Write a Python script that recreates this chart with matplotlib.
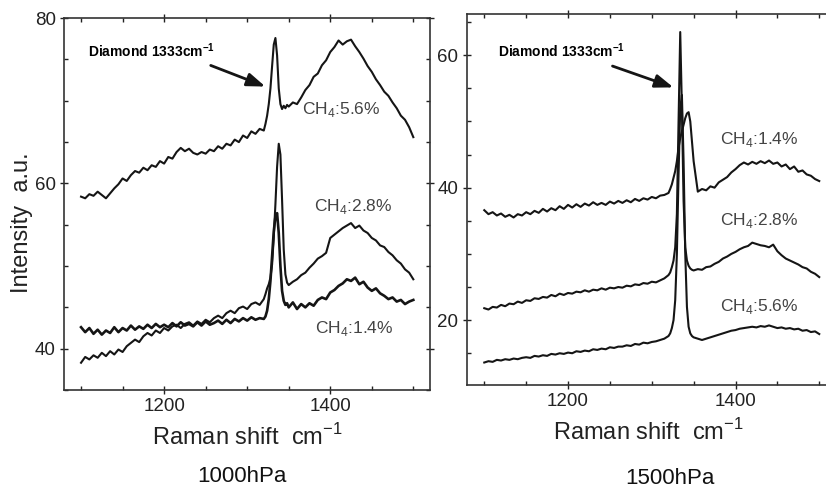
import matplotlib
matplotlib.use("Agg")
import matplotlib.pyplot as plt
from matplotlib.ticker import FixedLocator, MultipleLocator

plt.rcParams['font.family'] = ['Liberation Sans', 'DejaVu Sans']
plt.rcParams['mathtext.fontset'] = 'custom'
plt.rcParams['mathtext.rm'] = 'Liberation Sans'
plt.rcParams['mathtext.bf'] = 'Liberation Sans:bold'

# Raman shift (cm-1), finer steps around the diamond line
shift = [1100, 1105, 1110, 1115, 1120, 1125, 1130, 1135, 1140,
         1145, 1150, 1155, 1160, 1165, 1170, 1175, 1180, 1185,
         1190, 1195, 1200, 1205, 1210, 1215, 1220, 1225, 1230,
         1235, 1240, 1245, 1250, 1255, 1260, 1265, 1270, 1275,
         1280, 1285, 1290, 1295, 1300, 1305, 1310, 1315, 1320,
         1322, 1324, 1326, 1328, 1330, 1332, 1334, 1336, 1338, 1340, 1342, 1344, 1346, 1348,
         1350, 1355, 1360, 1365, 1370, 1375, 1380, 1385, 1390, 1395, 1400,
         1405, 1410, 1415, 1420, 1425, 1430, 1435, 1440, 1445, 1450,
         1455, 1460, 1465, 1470, 1475, 1480, 1485, 1490, 1495, 1500]

# 1000 hPa
p1000_ch4_56 = [58.4, 58.2, 58.7, 58.5, 59.0, 58.6, 58.2, 58.8, 59.4,
                59.9, 60.6, 60.3, 61.0, 61.5, 61.3, 61.9, 61.6, 62.2,
                62.0, 62.7, 62.4, 63.2, 63.0, 63.8, 64.3, 63.9, 64.2,
                63.7, 63.5, 63.8, 63.6, 64.1, 63.9, 64.5, 64.2, 64.8,
                64.6, 65.3, 65.0, 65.8, 65.5, 66.3, 66.0, 66.6, 66.4,
                67.2, 68.2, 69.6, 71.5, 74.2, 76.8, 77.6, 75.5, 71.5, 69.6, 69.0, 69.4, 69.1, 69.5,
                69.3, 69.8, 69.6, 70.4, 71.3, 71.9, 72.9, 73.3, 74.3, 74.9, 75.9,
                76.5, 77.3, 76.8, 77.2, 77.4, 76.6, 75.9, 75.1, 74.2, 73.5,
                72.6, 71.9, 71.1, 70.6, 69.8, 69.1, 68.2, 67.7, 66.8, 65.6]
p1000_ch4_28 = [38.3, 39.0, 38.7, 39.2, 38.9, 39.5, 39.1, 39.7, 39.3,
                39.9, 39.6, 40.3, 40.7, 41.1, 40.8, 41.5, 41.9, 41.6,
                42.2, 41.9, 42.5, 42.2, 42.7, 42.9, 42.5, 43.0, 43.2,
                42.8, 43.3, 43.0, 43.5, 43.2, 43.7, 44.0, 43.7, 44.3,
                44.6, 44.3, 44.9, 45.1, 44.8, 45.4, 45.6, 45.3, 46.0,
                46.6, 47.3, 47.8, 48.6, 50.2, 53.5, 57.5, 62.0, 64.8, 63.5, 58.0, 52.0, 49.0, 48.0,
                47.7, 48.1, 48.4, 48.9, 49.2, 49.8, 50.3, 50.9, 51.2, 51.6, 53.4,
                53.8, 54.2, 54.6, 54.9, 55.2, 54.6, 54.9, 54.3, 54.0, 53.4,
                53.1, 52.5, 52.3, 51.7, 51.3, 50.7, 50.3, 49.6, 49.2, 48.4]
p1000_ch4_14 = [42.6, 42.0, 42.5, 41.8, 42.3, 41.7, 42.2, 41.9, 42.6,
                42.0, 42.5, 42.2, 42.8, 42.3, 42.7, 42.4, 42.9, 42.5,
                43.0, 42.6, 42.9, 42.6, 43.1, 42.7, 43.2, 42.8, 43.0,
                42.7, 43.2, 42.8, 43.3, 42.9, 43.1, 43.4, 43.0, 43.5,
                43.1, 43.6, 43.3, 43.7, 43.4, 43.8, 43.5, 43.7, 43.6,
                43.9, 44.6, 46.0, 48.2, 51.2, 54.2, 56.0, 56.4, 54.0, 50.0, 47.0, 45.8, 45.3, 45.5,
                45.0, 45.6, 44.8, 45.4, 45.0, 45.5, 45.2, 45.9, 46.2, 46.0, 46.8,
                47.1, 47.6, 47.9, 48.4, 48.2, 48.6, 47.8, 48.1, 47.4, 47.0,
                47.3, 46.7, 46.4, 46.0, 46.2, 45.7, 45.9, 45.4, 45.7, 45.9]

# 1500 hPa
p1500_ch4_14 = [36.6, 36.0, 36.3, 35.8, 36.1, 35.6, 35.9, 35.5, 36.0,
                35.8, 36.3, 36.0, 36.5, 36.2, 36.8, 36.4, 36.9, 36.6,
                37.2, 36.8, 37.4, 37.0, 37.5, 37.1, 37.6, 37.3, 37.8,
                37.4, 37.7, 37.4, 37.9, 37.6, 38.0, 37.7, 38.1, 37.8,
                38.3, 38.0, 38.4, 38.2, 38.6, 38.4, 38.8, 38.9, 39.2,
                39.8, 40.5, 41.5, 42.5, 44.0, 46.0, 47.5, 48.5, 49.5, 50.5, 51.2, 51.4, 50.0, 47.0,
                44.0, 39.4, 39.8, 39.6, 40.2, 40.0, 40.8, 41.2, 41.6, 42.3, 42.8,
                43.4, 43.8, 43.5, 43.9, 43.6, 44.0, 43.7, 44.1, 43.6, 43.8,
                43.2, 43.5, 42.8, 43.2, 42.4, 42.6, 42.0, 41.8, 41.3, 41.0]
p1500_ch4_28 = [21.8, 21.6, 22.0, 21.9, 22.3, 22.1, 22.5, 22.4, 22.8,
                22.6, 23.0, 22.9, 23.3, 23.2, 23.5, 23.4, 23.8, 23.6,
                24.0, 23.8, 24.1, 24.0, 24.3, 24.2, 24.5, 24.3, 24.6,
                24.5, 24.8, 24.6, 24.9, 24.8, 25.0, 24.9, 25.2, 25.1,
                25.4, 25.3, 25.6, 25.5, 25.8, 25.7, 26.0, 26.3, 26.8,
                27.2, 28.0, 29.0, 31.0, 36.0, 50.0, 63.5, 52.0, 38.0, 31.0, 29.0, 28.2, 27.8, 27.6,
                27.5, 27.7, 27.6, 28.0, 28.1, 28.5, 28.8, 29.3, 29.6, 30.0, 30.3,
                30.7, 31.0, 31.2, 31.7, 31.5, 31.3, 31.2, 31.0, 31.4, 30.4,
                29.8, 29.3, 29.0, 28.7, 28.4, 28.0, 27.8, 27.3, 27.0, 26.5]
p1500_ch4_56 = [13.6, 13.8, 13.7, 14.0, 13.9, 14.1, 14.0, 14.2, 14.1,
                14.3, 14.4, 14.3, 14.6, 14.5, 14.7, 14.6, 14.9, 14.8,
                15.0, 14.9, 15.1, 15.0, 15.3, 15.2, 15.4, 15.3, 15.6,
                15.5, 15.7, 15.6, 15.9, 15.8, 16.0, 16.0, 16.2, 16.1,
                16.4, 16.3, 16.6, 16.5, 16.7, 16.8, 17.0, 17.2, 17.6,
                18.0, 18.8, 20.0, 23.0, 30.0, 42.0, 52.0, 54.0, 44.0, 30.0, 22.0, 19.0, 18.0, 17.6,
                17.4, 17.2, 17.0, 17.2, 17.4, 17.6, 17.8, 18.0, 18.2, 18.4, 18.5,
                18.7, 18.8, 18.9, 19.0, 18.9, 19.1, 19.0, 19.2, 19.0, 18.8,
                18.9, 18.7, 18.8, 18.6, 18.7, 18.4, 18.5, 18.2, 18.3, 17.9]

ink = '#151515'
fig = plt.figure(figsize=(8.26, 4.88), dpi=100)
ax1 = fig.add_axes([0.0775, 0.2008, 0.443, 0.762])
ax2 = fig.add_axes([0.565, 0.211, 0.440, 0.760])

for ax in (ax1, ax2):
    ax.xaxis.set_major_locator(FixedLocator([1200, 1400]))
    ax.xaxis.set_minor_locator(MultipleLocator(50))
    ax.yaxis.set_minor_locator(MultipleLocator(5))
    ax.tick_params(which='major', direction='inout', length=6, width=1,
                   top=True, right=True, labelsize=13.5, colors='#222222', pad=3)
    ax.tick_params(which='minor', direction='in', length=3, width=1,
                   top=True, right=True, colors='#222222')
    for s in ax.spines.values():
        s.set_linewidth(1.2)
        s.set_color('#333333')
    ax.set_xlabel('Raman shift  cm$^{-1}$', fontsize=17, color='#222222', labelpad=6)

# left panel
ax1.plot(shift, p1000_ch4_56, color=ink, lw=1.5)
ax1.plot(shift, p1000_ch4_28, color=ink, lw=1.5)
ax1.plot(shift, p1000_ch4_14, color=ink, lw=1.9)
ax1.set_xlim(1079.5, 1520)
ax1.set_ylim(35, 80)
ax1.yaxis.set_major_locator(FixedLocator([40, 60, 80]))
ax1.text(1108, 76.1, 'Diamond 1333cm$^{\\mathbf{-1}}$', fontsize=10, fontweight='bold', va='center')
ax1.annotate('', xy=(1325, 71.6), xytext=(1253, 74.4),
             arrowprops=dict(arrowstyle='-|>,head_length=1.1,head_width=0.4', color=ink, lw=2))
ax1.text(1366, 68.9, 'CH$_{4}$:5.6%', fontsize=12.5, color='#444444', va='center')
ax1.text(1380, 57.2, 'CH$_{4}$:2.8%', fontsize=12.5, color='#444444', va='center')
ax1.text(1382, 42.5, 'CH$_{4}$:1.4%', fontsize=12.5, color='#444444', va='center')

# right panel
ax2.plot(shift, p1500_ch4_14, color=ink, lw=1.5)
ax2.plot(shift, p1500_ch4_28, color=ink, lw=1.5)
ax2.plot(shift, p1500_ch4_56, color=ink, lw=1.5)
ax2.set_xlim(1079, 1513)
ax2.set_ylim(10.2, 66.2)
ax2.yaxis.set_major_locator(FixedLocator([20, 40, 60]))
ax2.text(1116, 60.7, 'Diamond 1333cm$^{\\mathbf{-1}}$', fontsize=10, fontweight='bold', va='center')
ax2.annotate('', xy=(1329, 55.0), xytext=(1250, 58.5),
             arrowprops=dict(arrowstyle='-|>,head_length=1.1,head_width=0.4', color=ink, lw=2))
ax2.text(1382, 47.2, 'CH$_{4}$:1.4%', fontsize=12.5, color='#444444', va='center')
ax2.text(1382, 35.1, 'CH$_{4}$:2.8%', fontsize=12.5, color='#444444', va='center')
ax2.text(1382, 22.0, 'CH$_{4}$:5.6%', fontsize=12.5, color='#444444', va='center')

fig.text(22 / 826, 1 - 223 / 488, 'Intensity  a.u.', rotation=90, fontsize=17,
         color='#222222', ha='center', va='center')
fig.text(242 / 826, 1 - 477 / 488, '1000hPa', fontsize=16, color='#111111', ha='center', va='center')
fig.text(670 / 826, 1 - 478 / 488, '1500hPa', fontsize=16, color='#111111', ha='center', va='center')

fig.savefig('out.png', dpi=100)
